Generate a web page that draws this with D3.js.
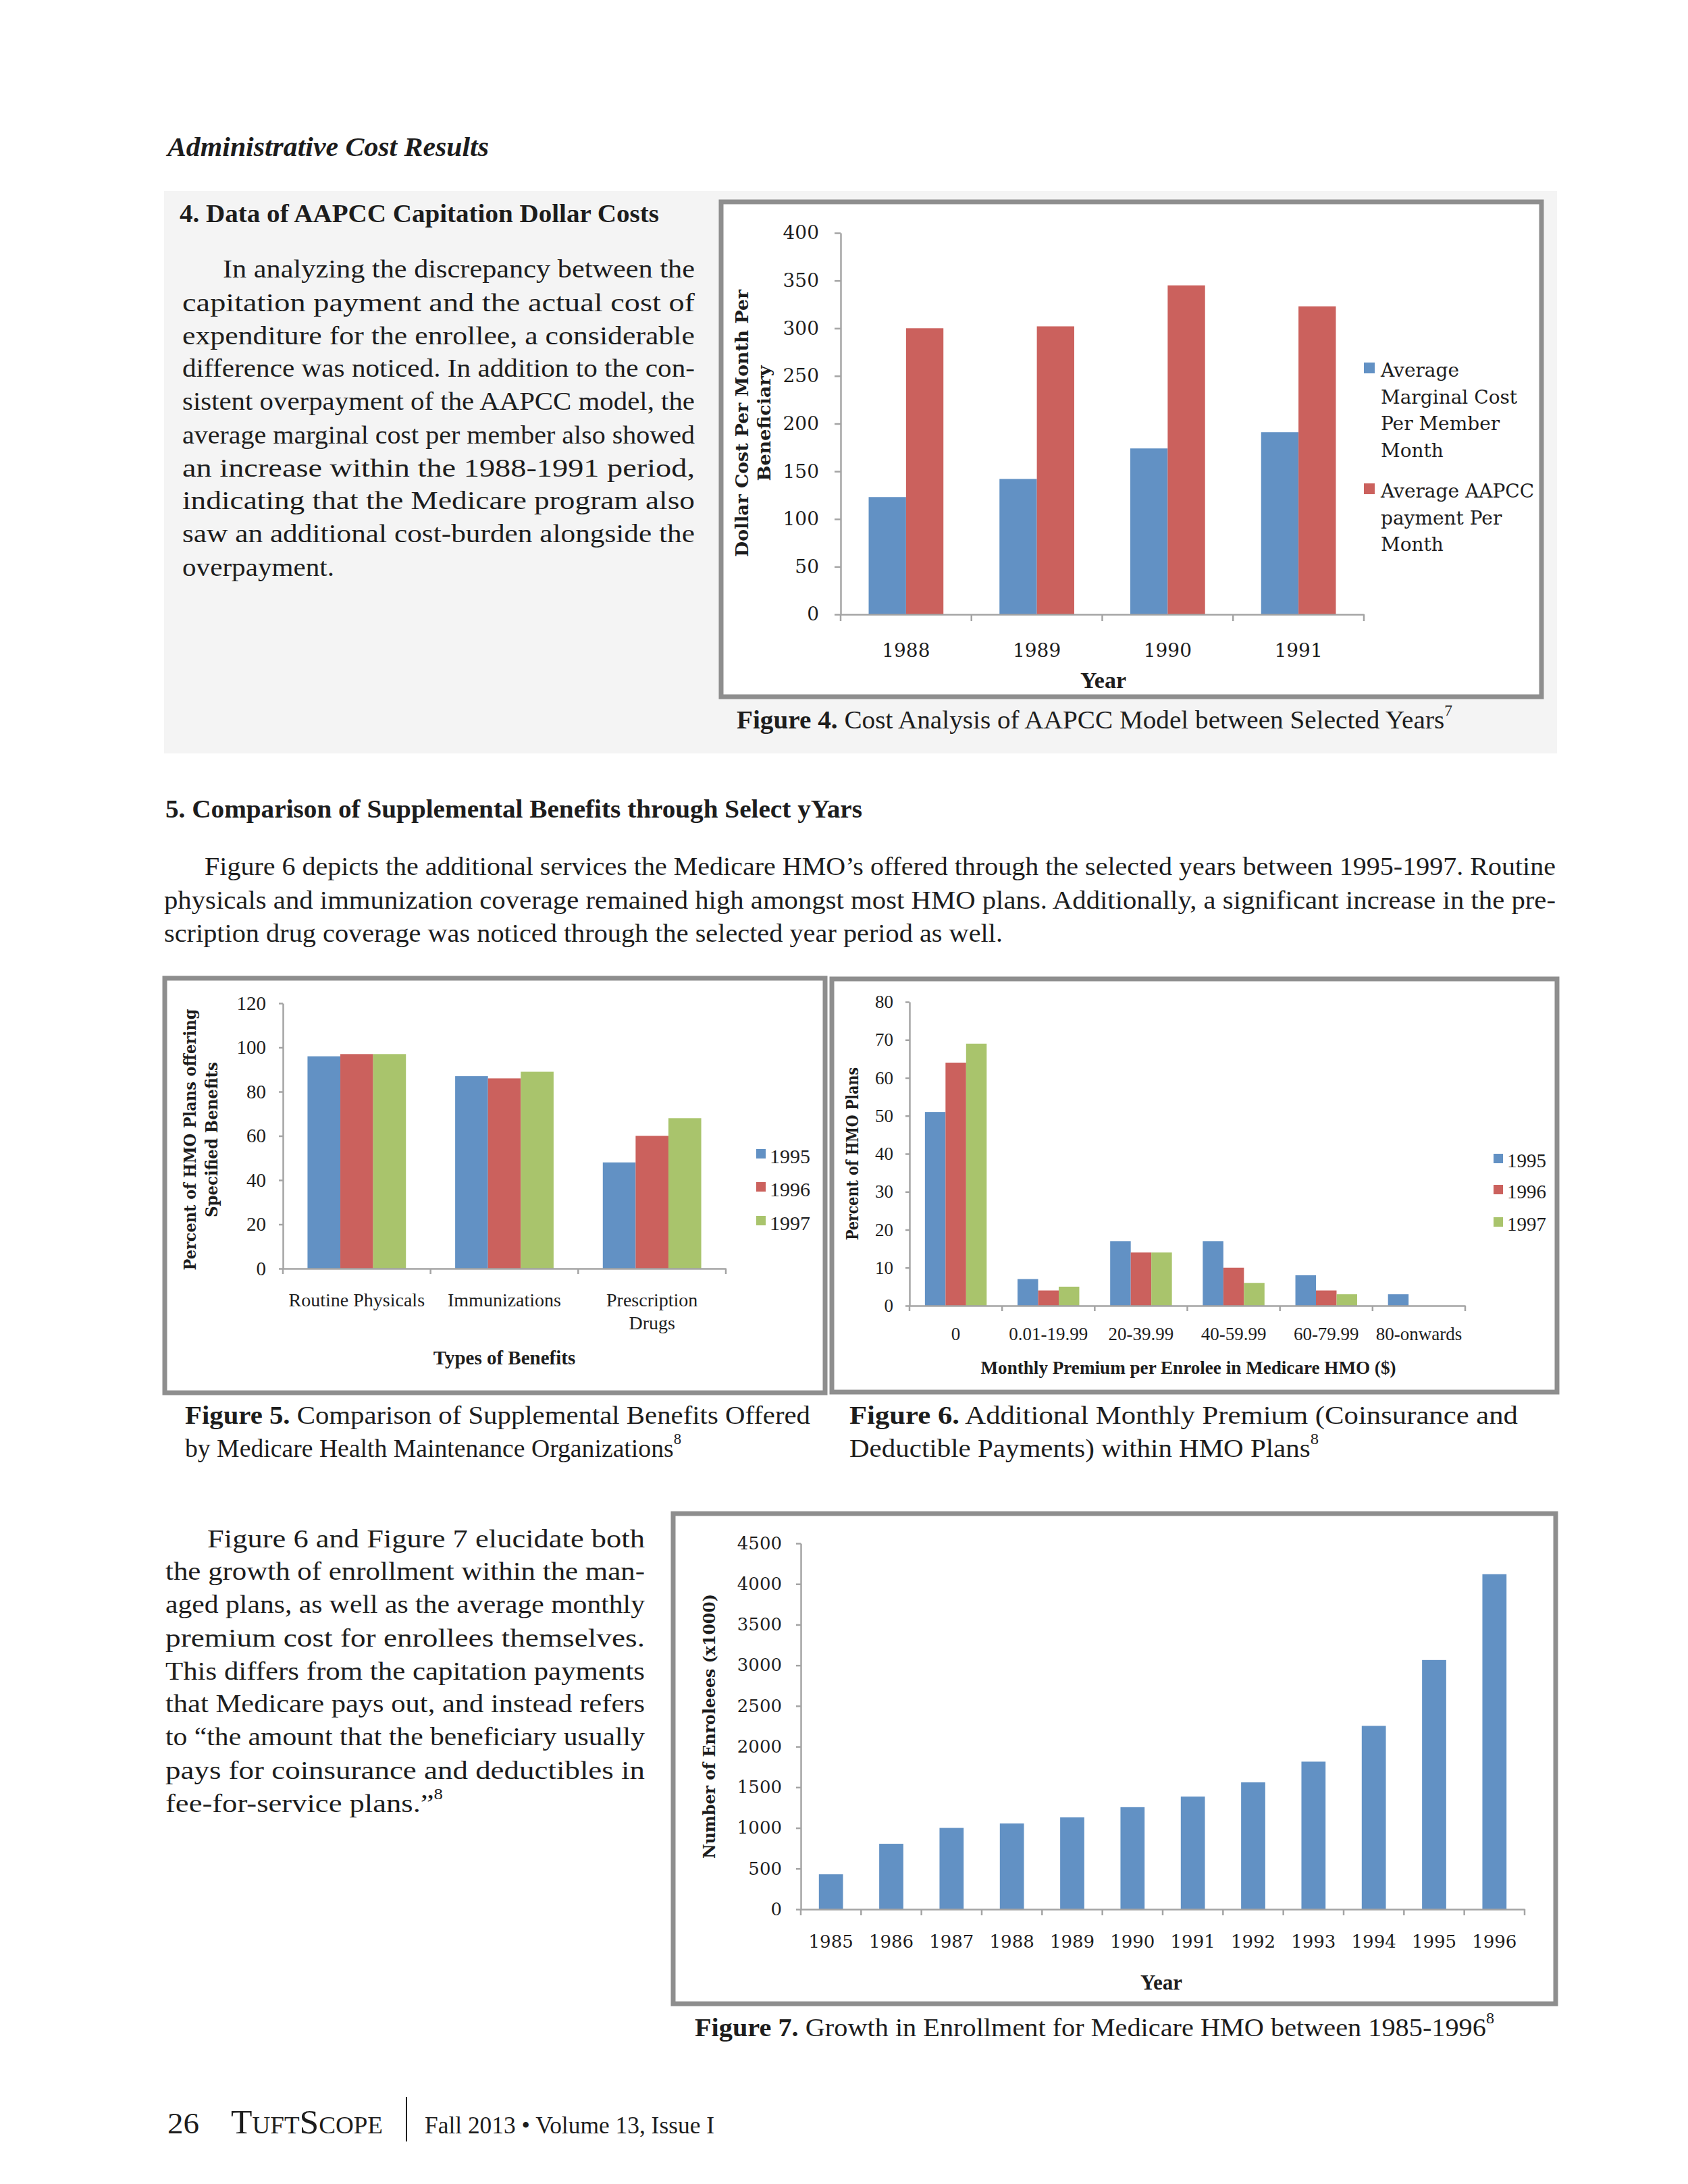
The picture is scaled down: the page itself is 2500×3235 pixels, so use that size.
<!DOCTYPE html>
<html><head><meta charset="utf-8">
<script src="https://cdn.jsdelivr.net/npm/d3@7"></script>
<style>body{margin:0;background:#fff}svg{display:block}</style>
</head><body>
<svg id="page" width="2500" height="3235"></svg>
<script>
// ---------------- DATA ----------------
const fig4Years = ["1988", "1989", "1990", "1991"];
const fig4Marginal = [123, 142, 174, 191];
const fig4AAPCC = [300, 302, 345, 323];
const fig4Ticks = [0, 50, 100, 150, 200, 250, 300, 350, 400];
const fig4Legend = [["Average", "Marginal Cost", "Per Member", "Month"], ["Average AAPCC", "payment Per", "Month"]];

const fig5Categories = [["Routine Physicals"], ["Immunizations"], ["Prescription", "Drugs"]];
const fig5Y1995 = [96, 87, 48];
const fig5Y1996 = [97, 86, 60];
const fig5Y1997 = [97, 89, 68];
const fig5Ticks = [0, 20, 40, 60, 80, 100, 120];

const fig6Categories = ["0", "0.01-19.99", "20-39.99", "40-59.99", "60-79.99", "80-onwards"];
const fig6Y1995 = [51, 7, 17, 17, 8, 3];
const fig6Y1996 = [64, 4, 14, 10, 4, 0];
const fig6Y1997 = [69, 5, 14, 6, 3, 0];
const fig6Ticks = [0, 10, 20, 30, 40, 50, 60, 70, 80];

const legendYears = ["1995", "1996", "1997"];

const fig7Years = ["1985", "1986", "1987", "1988", "1989", "1990", "1991", "1992", "1993", "1994", "1995", "1996"];
const fig7Enrollees = [430, 805, 1000, 1055, 1130, 1255, 1385, 1560, 1815, 2255, 3065, 4120];
const fig7Ticks = [0, 500, 1000, 1500, 2000, 2500, 3000, 3500, 4000, 4500];

const para1 = ["In analyzing the discrepancy between the", "capitation payment and the actual cost of",
  "expenditure for the enrollee, a considerable", "difference was noticed. In addition to the con-",
  "sistent overpayment of the AAPCC model, the", "average marginal cost per member also showed",
  "an increase within the 1988-1991 period,", "indicating that the Medicare program also",
  "saw an additional cost-burden alongside the", "overpayment."];
const para2 = ["Figure 6 depicts the additional services the Medicare HMO’s offered through the selected years between 1995-1997. Routine",
  "physicals and immunization coverage remained high amongst most HMO plans. Additionally, a significant increase in the pre-",
  "scription drug coverage was noticed through the selected year period as well."];
const para3 = ["Figure 6 and Figure 7 elucidate both", "the growth of enrollment within the man-",
  "aged plans, as well as the average monthly", "premium cost for enrollees themselves.",
  "This differs from the capitation payments", "that Medicare pays out, and instead refers",
  "to “the amount that the beneficiary usually", "pays for coinsurance and deductibles in",
  "fee-for-service plans.”"];

// ---------------- STYLE ----------------
const SERIF = "'Liberation Serif','Times New Roman',serif";
const DJ = "'DejaVu Serif',serif";
const AXIS = "#a4a4a4";
const INK = "#1d1d1d";
const COLORS = ["#6291c4", "#cb615d", "#a9c46c"];

const svg = d3.select("#page");
svg.append("rect").attr("width", 2500).attr("height", 3235).attr("fill", "#fff");

function addText(parent, x, y, parts, o = {}) {
  if (typeof parts === "string") parts = [{t: parts}];
  const size = o.size || 36;
  const t = parent.append("text").attr("x", x).attr("y", y)
    .attr("font-family", o.family || SERIF).attr("font-size", size)
    .attr("font-weight", o.weight || "normal").attr("font-style", o.italic ? "italic" : "normal")
    .attr("text-anchor", o.anchor || "start").attr("dominant-baseline", o.baseline || "central")
    .attr("fill", o.fill || INK);
  parts.forEach(p => {
    const s = t.append("tspan").text(p.t);
    if (p.b) s.attr("font-weight", "bold");
    if (p.size) s.attr("font-size", p.size);
    if (p.sup) s.attr("font-size", size * 0.6).attr("dy", -size * 0.38);
  });
  if (o.len) t.attr("textLength", o.len).attr("lengthAdjust", "spacingAndGlyphs");
  if (o.rotate) t.attr("transform", `rotate(-90 ${x} ${y})`);
  return t;
}

function paragraph(lines, xs, xe, ys, lastEnd, size, supLast) {
  lines.forEach((ln, i) => {
    const x0 = xs[i];
    const last = i === lines.length - 1;
    const parts = [{t: ln}];
    if (last && supLast) parts.push({t: supLast, sup: true});
    addText(svg, x0, ys[i], parts, {size: size, len: (last ? lastEnd : xe) - x0});
  });
}

function barChart(cfg) {
  const g = svg.append("g");
  const [fx0, fy0, fx1, fy1] = cfg.frame;
  g.append("rect").attr("x", fx0).attr("y", fy0).attr("width", fx1 - fx0).attr("height", fy1 - fy0)
    .attr("fill", "#fff").attr("stroke", "#8e8e8e").attr("stroke-width", 7);
  const keys = cfg.cats.map((c, i) => i);
  const x = d3.scaleBand().domain(keys).range([cfg.x0, cfg.x1]).paddingInner(0).paddingOuter(0);
  const xs = d3.scaleBand().domain(d3.range(cfg.series.length)).range([0, x.bandwidth()])
    .paddingInner(0).paddingOuter(0.75);
  const y = d3.scaleLinear().domain([0, cfg.yMax]).range([cfg.y0, cfg.y1]);

  cfg.series.forEach((vals, si) => {
    g.append("g").selectAll("rect").data(vals.map((v, i) => ({v, i}))).enter().append("rect")
      .attr("x", d => x(d.i) + xs(si)).attr("y", d => y(d.v))
      .attr("width", xs.bandwidth()).attr("height", d => y(0) - y(d.v))
      .attr("fill", cfg.colors[si]);
  });

  // y axis
  const ya = g.append("g").attr("transform", `translate(${cfg.x0},0)`)
    .call(d3.axisLeft(y).tickValues(cfg.ticks).tickFormat(d3.format("d"))
      .tickSize(cfg.tickLen).tickSizeOuter(0).tickPadding(cfg.tickPad));
  ya.attr("font-family", cfg.font).attr("font-size", cfg.fontSize);
  ya.select(".domain").attr("stroke", AXIS).attr("stroke-width", 2.5);
  ya.selectAll(".tick line").attr("stroke", AXIS).attr("stroke-width", 2.5);
  ya.selectAll(".tick text").attr("fill", INK);

  // x axis
  const xa = g.append("g").attr("transform", `translate(0,${cfg.y0})`)
    .call(d3.axisBottom(x).tickSize(0).tickSizeOuter(0).tickFormat(""));
  xa.select(".domain").attr("stroke", AXIS).attr("stroke-width", 2.5);
  const bounds = keys.map(k => x(k)).concat([cfg.x1]);
  g.append("g").selectAll("line").data(bounds).enter().append("line")
    .attr("x1", d => d).attr("x2", d => d).attr("y1", cfg.y0).attr("y2", cfg.y0 + cfg.xTickLen)
    .attr("stroke", AXIS).attr("stroke-width", 2.5);

  // category labels
  cfg.cats.forEach((c, i) => {
    const lines = Array.isArray(c) ? c : [c];
    lines.forEach((ln, j) => addText(g, x(i) + x.bandwidth() / 2, cfg.y0 + cfg.catOffset + j * cfg.catLine, ln,
      {family: cfg.font, size: cfg.catSize || cfg.fontSize, anchor: "middle"}));
  });

  // x title
  addText(g, cfg.xTitle.x, cfg.xTitle.y, cfg.xTitle.text,
    {family: cfg.xTitle.family, size: cfg.xTitle.size, weight: "bold", anchor: "middle", len: cfg.xTitle.len});
  // y title
  cfg.yTitle.lines.forEach((ln, j) => addText(g, cfg.yTitle.xs[j], cfg.yTitle.y, ln,
    {family: DJ, size: cfg.yTitle.size, weight: "bold", anchor: "middle", rotate: true, len: cfg.yTitle.lens[j]}));

  // legend
  cfg.legend.items.forEach((lines, k) => {
    const ly = cfg.legend.ys[k];
    g.append("rect").attr("x", cfg.legend.x).attr("y", ly - cfg.legend.sq / 2 - cfg.legend.sqShift)
      .attr("width", cfg.legend.sq).attr("height", cfg.legend.sq).attr("fill", cfg.colors[k]);
    lines.forEach((ln, j) => addText(g, cfg.legend.tx, ly + j * cfg.legend.line, ln,
      {family: cfg.legend.font, size: cfg.legend.size}));
  });
  return g;
}

// ---------------- PAGE HEADER / PANEL ----------------
addText(svg, 248, 217, "Administrative Cost Results", {size: 40, weight: "bold", italic: true, len: 476});
svg.append("rect").attr("x", 243).attr("y", 283).attr("width", 2063).attr("height", 833).attr("fill", "#f4f4f4");
addText(svg, 266, 316, "4. Data of AAPCC Capitation Dollar Costs", {size: 38, weight: "bold", len: 710});

paragraph(para1, [330, 270, 270, 270, 270, 270, 270, 270, 270, 270], 1029,
  [398, 448, 497, 545, 594, 644, 693, 741, 790, 840], 495, 37);

// ---------------- FIGURE 4 ----------------
barChart({
  frame: [1068, 299, 2283, 1032],
  x0: 1245, x1: 2020, y0: 910, y1: 345, yMax: 400,
  cats: fig4Years, series: [fig4Marginal, fig4AAPCC], colors: COLORS,
  ticks: fig4Ticks, tickLen: 9, tickPad: 23, xTickLen: 10,
  font: DJ, fontSize: 28, catOffset: 53, catLine: 0,
  xTitle: {text: "Year", x: 1634, y: 1007, family: SERIF, size: 34},
  yTitle: {lines: ["Dollar Cost Per Month Per", "Beneficiary"], xs: [1099, 1132], y: 627, size: 26, lens: [396, 171]},
  legend: {items: fig4Legend, x: 2020, tx: 2045, ys: [548, 727], line: 39.5, sq: 16, sqShift: 3, font: DJ, size: 28}
});
addText(svg, 1091, 1066, [{t: "Figure 4.", b: true}, {t: " Cost Analysis of AAPCC Model between Selected Years"}, {t: "7", sup: true}],
  {size: 37, len: 1060});

// ---------------- SECTION 5 ----------------
addText(svg, 245, 1198, "5. Comparison of Supplemental Benefits through Select yYars", {size: 38, weight: "bold", len: 1032});
paragraph(para2, [303, 243, 243], 2304, [1283, 1333, 1382], 1485, 37);

// ---------------- FIGURE 5 ----------------
barChart({
  frame: [244, 1449, 1222, 2063],
  x0: 419, x1: 1075, y0: 1879, y1: 1486, yMax: 120,
  cats: fig5Categories, series: [fig5Y1995, fig5Y1996, fig5Y1997], colors: COLORS,
  ticks: fig5Ticks, tickLen: 6, tickPad: 19, xTickLen: 8,
  font: SERIF, fontSize: 29, catSize: 28, catOffset: 46, catLine: 34,
  xTitle: {text: "Types of Benefits", x: 747, y: 2011, family: SERIF, size: 29},
  yTitle: {lines: ["Percent of HMO Plans offering", "Specified Benefits"], xs: [281, 313], y: 1688, size: 25, lens: [387, 230]},
  legend: {items: legendYears.map(d => [d]), x: 1120, tx: 1140, ys: [1712, 1761, 1811], line: 0, sq: 14, sqShift: 3, font: SERIF, size: 30}
});
addText(svg, 274, 2096, [{t: "Figure 5.", b: true}, {t: " Comparison of Supplemental Benefits Offered"}], {size: 37, len: 926});
addText(svg, 274, 2145, [{t: "by Medicare Health Maintenance Organizations"}, {t: "8", sup: true}], {size: 37, len: 735});

// ---------------- FIGURE 6 ----------------
barChart({
  frame: [1232, 1450, 2306, 2062],
  x0: 1347, x1: 2170, y0: 1934, y1: 1484, yMax: 80,
  cats: fig6Categories, series: [fig6Y1995, fig6Y1996, fig6Y1997], colors: COLORS,
  ticks: fig6Ticks, tickLen: 6, tickPad: 18, xTickLen: 8,
  font: SERIF, fontSize: 27, catOffset: 42, catLine: 0,
  xTitle: {text: "Monthly Premium per Enrolee in Medicare HMO ($)", x: 1760, y: 2026, family: SERIF, size: 27, len: 615},
  yTitle: {lines: ["Percent of HMO Plans"], xs: [1262], y: 1709, size: 25, lens: [256]},
  legend: {items: legendYears.map(d => [d]), x: 2212, tx: 2232, ys: [1719, 1765, 1813], line: 0, sq: 14, sqShift: 3, font: SERIF, size: 29}
});
addText(svg, 1258, 2096, [{t: "Figure 6.", b: true}, {t: " Additional Monthly Premium (Coinsurance and"}], {size: 37, len: 990});
addText(svg, 1258, 2145, [{t: "Deductible Payments) within HMO Plans"}, {t: "8", sup: true}], {size: 37, len: 695});

// ---------------- PARAGRAPH 3 ----------------
paragraph(para3, [307, 245, 245, 245, 245, 245, 245, 245, 245], 955,
  [2279, 2327, 2376, 2426, 2475, 2523, 2572, 2622, 2671], 656, 37, "8");

// ---------------- FIGURE 7 ----------------
barChart({
  frame: [997, 2242, 2304, 2968],
  x0: 1186, x1: 2258, y0: 2828, y1: 2286, yMax: 4500,
  cats: fig7Years, series: [fig7Enrollees], colors: COLORS,
  ticks: fig7Ticks, tickLen: 7, tickPad: 21, xTickLen: 9,
  font: DJ, fontSize: 26, catOffset: 48, catLine: 0,
  xTitle: {text: "Year", x: 1720, y: 2936, family: SERIF, size: 31},
  yTitle: {lines: ["Number of Enroleees (x1000)"], xs: [1050], y: 2557, size: 25, lens: [392]},
  legend: {items: [], x: 0, tx: 0, ys: [], line: 0, sq: 0, sqShift: 0, font: SERIF, size: 10}
});
addText(svg, 1029, 3003, [{t: "Figure 7.", b: true}, {t: " Growth in Enrollment for Medicare HMO between 1985-1996"}, {t: "8", sup: true}],
  {size: 37, len: 1184});

// ---------------- FOOTER ----------------
addText(svg, 248, 3160, "26", {size: 44, baseline: "alphabetic", len: 47});
addText(svg, 342, 3160, [{t: "T", size: 50}, {t: "UFT", size: 36}, {t: "S", size: 50}, {t: "COPE", size: 36}],
  {size: 36, baseline: "alphabetic", len: 225});
svg.append("line").attr("x1", 602).attr("x2", 602).attr("y1", 3106).attr("y2", 3172).attr("stroke", "#222").attr("stroke-width", 2);
addText(svg, 629, 3160, "Fall 2013 • Volume 13, Issue I", {size: 36, baseline: "alphabetic", len: 429});
</script>
</body></html>
